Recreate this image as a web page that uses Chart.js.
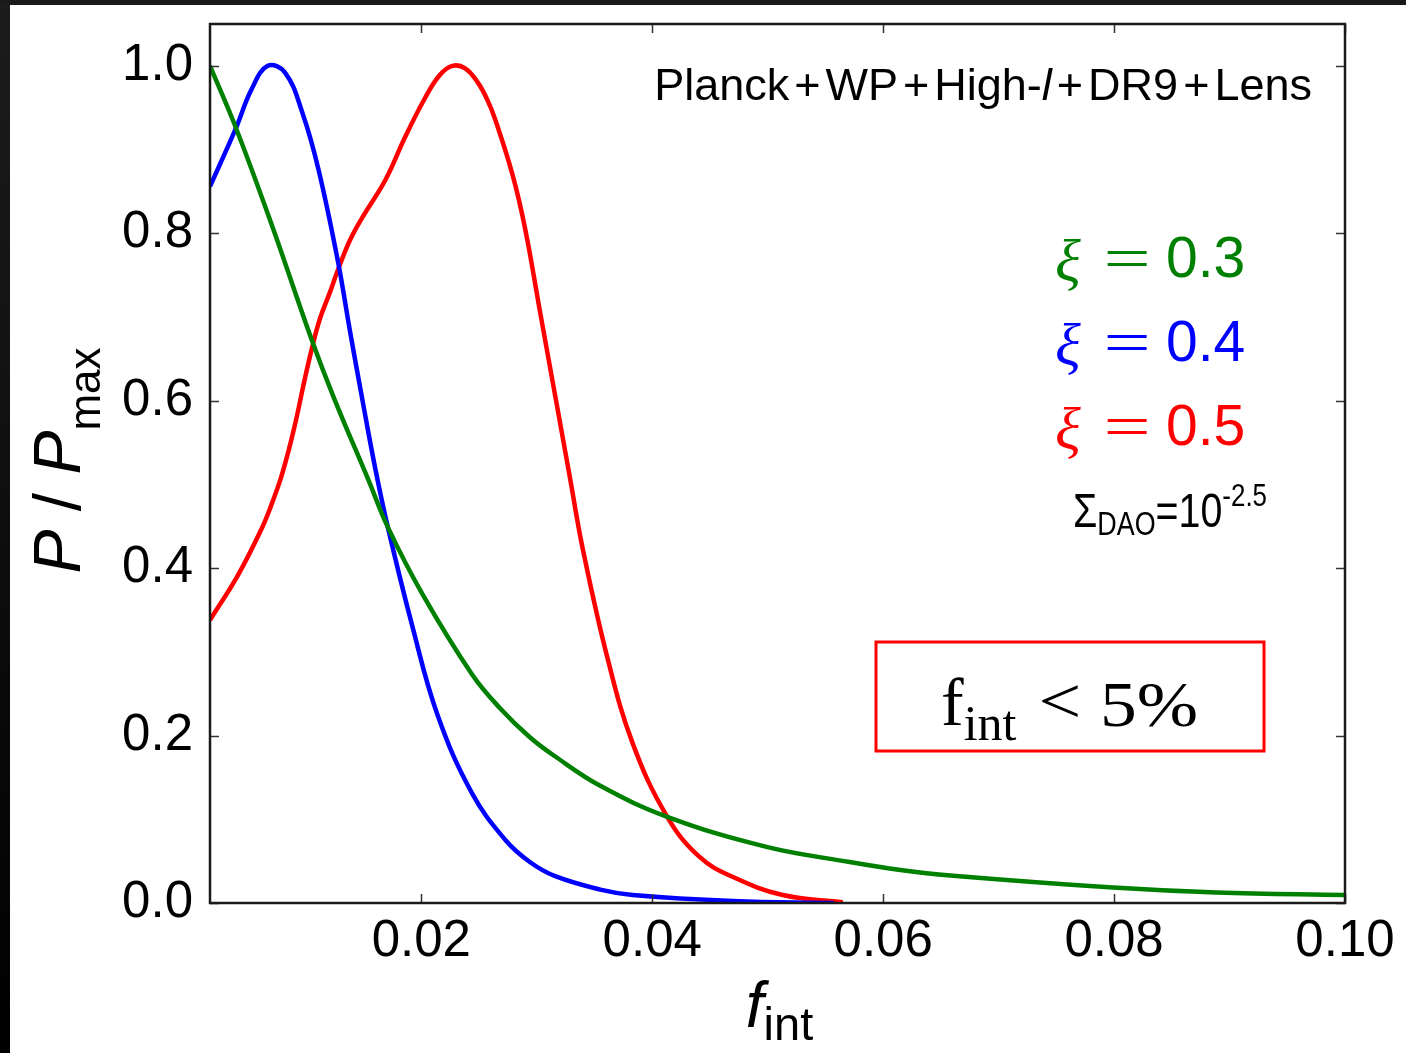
<!DOCTYPE html>
<html><head><meta charset="utf-8">
<script src="https://cdn.jsdelivr.net/npm/chart.js@4.4.1/dist/chart.umd.min.js"></script>
<style>html,body{margin:0;padding:0;background:#fff;overflow:hidden}#wrap{width:1406px;height:1053px;position:relative}</style>
</head><body><div id="wrap"><canvas id="c" width="1406" height="1053"></canvas></div>
<script>
// ---- data ----
const greenX=[0.0017,0.0040,0.0071,0.0105,0.0125,0.0154,0.0171,0.0201,0.0244,0.0268,0.0294,0.0316,0.0355,0.0413,0.0499,0.0571,0.0615,0.0658,0.0799,0.0889,0.1000];
const greenY=[1.000,0.924,0.808,0.673,0.601,0.506,0.449,0.369,0.273,0.233,0.198,0.175,0.140,0.103,0.0670,0.0490,0.0395,0.0329,0.0185,0.0126,0.0096];
const blueX=[0.0017,0.0039,0.0053,0.0067,0.0082,0.0097,0.0111,0.0128,0.0138,0.0149,0.0160,0.0171,0.0192,0.0214,0.0244,0.0273,0.0294,0.0316,0.0355,0.0383,0.0470,0.0557];
const blueY=[0.856,0.924,0.972,1.000,0.992,0.944,0.876,0.765,0.685,0.601,0.520,0.449,0.332,0.225,0.131,0.075,0.049,0.032,0.016,0.0096,0.0024,0.0];
const redX=[0.0017,0.0041,0.0062,0.0070,0.0078,0.0085,0.0092,0.0098,0.0105,0.0112,0.0121,0.0128,0.0138,0.0149,0.0169,0.0186,0.0203,0.0216,0.0227,0.0238,0.0249,0.0257,0.0264,0.0279,0.0290,0.0303,0.0317,0.0329,0.0340,0.0361,0.0383,0.0413,0.0441,0.0470,0.0513,0.0565];
const redY=[0.338,0.391,0.448,0.475,0.506,0.540,0.580,0.619,0.661,0.697,0.730,0.757,0.791,0.819,0.864,0.915,0.961,0.989,1.000,0.997,0.980,0.960,0.936,0.870,0.805,0.705,0.598,0.506,0.422,0.294,0.191,0.103,0.055,0.031,0.0096,0.001];
const seriesNames=['0.3','0.4','0.5'];
const seriesColors=['#008000','#0000ff','#ff0000'];
const xTicks=[0.02,0.04,0.06,0.08,0.10];
const yTicks=[0.0,0.2,0.4,0.6,0.8,1.0];
const xRange=[0.0017,0.10];
const yRange=[0,1.05];

const SANS='"Liberation Sans", Arial, sans-serif';
const SERIF='"Liberation Serif", "Times New Roman", serif';

function zip(xs,ys){return xs.map((x,i)=>({x:x,y:ys[i]}));}

function drawRuns(ctx,runs,x,y,align){
  let total=0;
  runs.forEach(r=>{ctx.font=r.f;r.w=ctx.measureText(r.t).width+(r.gap||0)*2;total+=r.w;});
  let cx=align==='center'?x-total/2:(align==='right'?x-total:x);
  ctx.textAlign='left';ctx.textBaseline='alphabetic';
  runs.forEach(r=>{ctx.font=r.f;ctx.fillStyle=r.c||'#000';ctx.fillText(r.t,cx+(r.gap||0),y+(r.dy||0));cx+=r.w;});
  return total;
}

const framePlugin={
  id:'frame',
  beforeDraw(chart){
    const ctx=chart.ctx;ctx.save();
    ctx.fillStyle='#fff';ctx.fillRect(0,0,chart.width,chart.height);
    const g=ctx.createLinearGradient(0,0,0,chart.height);
    g.addColorStop(0,'#1c1c1c');g.addColorStop(1,'#000');
    ctx.fillStyle=g;ctx.fillRect(0,0,10,chart.height);
    ctx.fillStyle='#1a1a1a';ctx.fillRect(0,0,chart.width,5);
    ctx.restore();
  },
  afterDraw(chart){
    const ctx=chart.ctx,a=chart.chartArea,xs=chart.scales.x,ys=chart.scales.y;
    ctx.save();
    // inward tick marks on all four sides
    ctx.strokeStyle='#333';ctx.lineWidth=1.5;ctx.beginPath();
    xTicks.forEach(v=>{const p=Math.round(xs.getPixelForValue(v))+0.5;ctx.moveTo(p,a.bottom);ctx.lineTo(p,a.bottom-9);ctx.moveTo(p,a.top);ctx.lineTo(p,a.top+9);});
    yTicks.forEach(v=>{const p=Math.round(ys.getPixelForValue(v))+0.5;ctx.moveTo(a.left,p);ctx.lineTo(a.left+9,p);ctx.moveTo(a.right,p);ctx.lineTo(a.right-9,p);});
    ctx.stroke();
    // axes frame
    ctx.strokeStyle='#1a1a1a';ctx.lineWidth=2.5;
    ctx.strokeRect(a.left,a.top,a.right-a.left,a.bottom-a.top);

    // axis titles
    drawRuns(ctx,[{t:'f',f:'italic 64px '+SANS},{t:'int',f:'47px '+SANS,dy:13}],(a.left+a.right)/2+2,1027,'center');
    ctx.save();ctx.translate(80,(a.top+a.bottom)/2-3);ctx.rotate(-Math.PI/2);
    drawRuns(ctx,[{t:'P',f:'italic 66px '+SANS},{t:' / ',f:'66px '+SANS},{t:'P',f:'italic 66px '+SANS},{t:'max',f:'44px '+SANS,dy:20}],0,0,'center');
    ctx.restore();

    // dataset text top right
    const F='45px '+SANS;
    const plus={t:'+',f:F,gap:5};
    drawRuns(ctx,[{t:'Planck',f:F},plus,{t:'WP',f:F},plus,{t:'High-',f:F},{t:'l',f:'italic 45px '+SANS},plus,{t:'DR9',f:F},plus,{t:'Lens',f:F}],1312,100,'right');

    // series labels (xi = value) coloured like their datasets
    const baselines=[277,361,445];
    chart.data.datasets.forEach((ds,i)=>{
      const c=ds.borderColor,b=baselines[i];
      ctx.fillStyle=c;ctx.textBaseline='alphabetic';
      ctx.font='italic 60px '+SERIF;ctx.textAlign='left';ctx.fillText('ξ',1055,b+4);
      ctx.save();ctx.translate(1127,b+2);ctx.scale(1.35,1);
      ctx.font='62px '+SERIF;ctx.textAlign='center';ctx.fillText('=',0,0);ctx.restore();
      ctx.font='57px '+SANS;ctx.textAlign='left';ctx.fillText(seriesNames[i],1166,b);
    });
    // Sigma_DAO = 10^-2.5
    ctx.save();ctx.translate(1073,527);ctx.scale(0.96,1.16);
    drawRuns(ctx,[{t:'Σ',f:'41px '+SANS},{t:'DAO',f:'28px '+SANS,dy:7},{t:'=10',f:'41px '+SANS},{t:'-2.5',f:'27px '+SANS,dy:-18}],0,0,'left');
    ctx.restore();

    // red box
    ctx.strokeStyle='#ff0000';ctx.lineWidth=3;ctx.strokeRect(876,642,388,109);
    ctx.fillStyle='#000';
    drawRuns(ctx,[{t:'f',f:'68px '+SERIF},{t:'int',f:'50px '+SERIF,dy:15}],941,725,'left');
    ctx.save();ctx.translate(1060,723);ctx.scale(1.15,1);
    ctx.font='66px '+SERIF;ctx.textAlign='center';ctx.fillText('<',0,0);ctx.restore();
    ctx.save();ctx.translate(1100,726);ctx.scale(1.15,1);
    ctx.font='64px '+SERIF;ctx.textAlign='left';ctx.fillText('5%',0,0);ctx.restore();
    ctx.restore();
  }
};

const datasets=[[greenX,greenY],[blueX,blueY],[redX,redY]].map((d,i)=>({
  label:'ξ = '+seriesNames[i],data:zip(d[0],d[1]),borderColor:seriesColors[i],backgroundColor:seriesColors[i],
  borderWidth:4.5,pointRadius:0,fill:false,tension:0.4
}));

new Chart(document.getElementById('c'),{
  type:'line',
  data:{datasets:datasets},
  options:{
    responsive:false,animation:false,devicePixelRatio:1,
    layout:{padding:{left:0,top:24,right:61,bottom:0}},
    plugins:{legend:{display:false},tooltip:{enabled:false}},
    scales:{
      x:{type:'linear',min:xRange[0],max:xRange[1],
        afterBuildTicks:s=>{s.ticks=xTicks.map(v=>({value:v}));},
        afterFit:s=>{s.height=150;s.paddingLeft=0;s.paddingRight=0;},
        grid:{display:false,drawTicks:false},border:{display:false},
        ticks:{padding:8,color:'#000',font:{family:SANS,size:51},maxRotation:0,autoSkip:false,callback:v=>Number(v).toFixed(2)}},
      y:{type:'linear',min:yRange[0],max:yRange[1],
        afterBuildTicks:s=>{s.ticks=yTicks.map(v=>({value:v}));},
        afterFit:s=>{s.width=210;s.paddingTop=0;s.paddingBottom=0;},
        grid:{display:false,drawTicks:false},border:{display:false},
        ticks:{padding:17,color:'#000',font:{family:SANS,size:51},autoSkip:false,callback:v=>Number(v).toFixed(1)}}
    }
  },
  plugins:[framePlugin]
});
</script></body></html>
